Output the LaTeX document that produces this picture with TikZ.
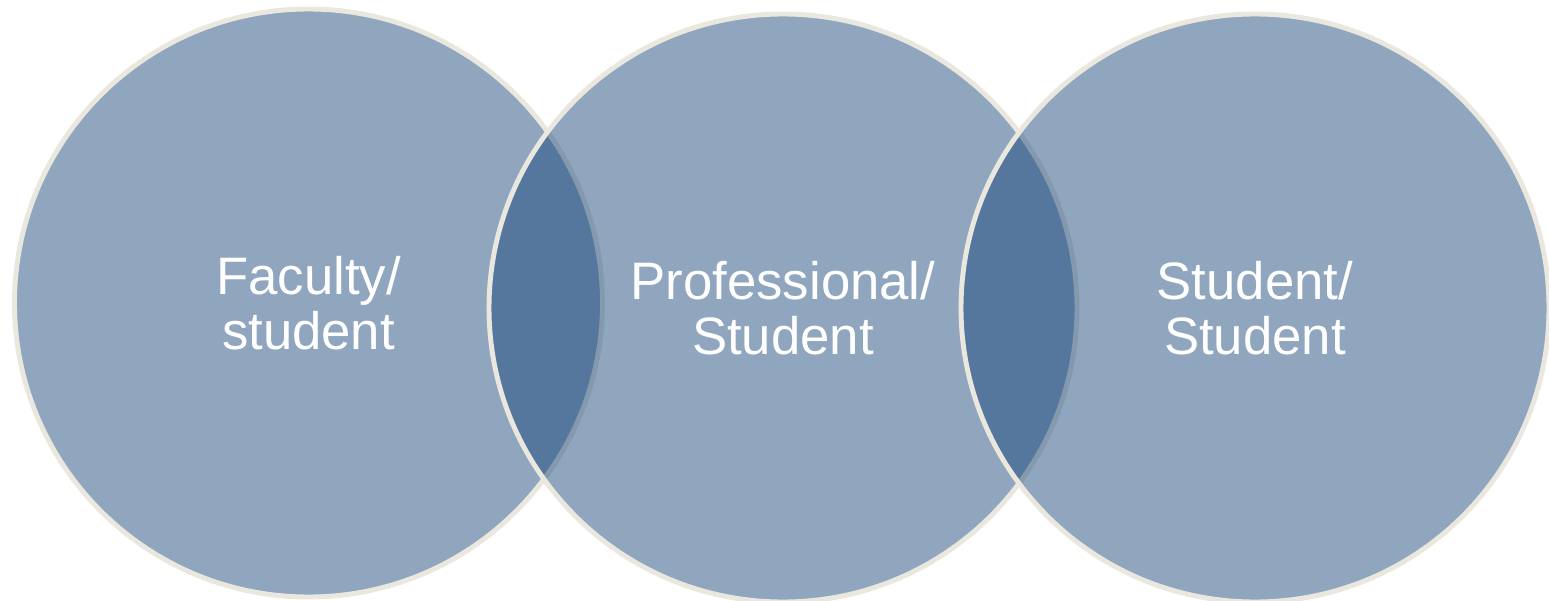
\documentclass[tikz,border=0pt]{standalone}
\usepackage{fontspec}
\setmainfont{Liberation Sans}
\usepackage{tikz}
\usetikzlibrary{shapes}
\definecolor{circleblue}{RGB}{22,68,120}
\definecolor{rimcream}{RGB}{234,232,222}
\tikzstyle{ring} = [circle, minimum size=11.76cm, inner sep=0pt, draw=rimcream, line width=2.8pt, fill=circleblue, fill opacity=0.48, text opacity=1, text=white, align=center, font=\fontsize{30}{31}\selectfont]

\begin{document}
\begin{tikzpicture}

\useasboundingbox (0,0) rectangle (30.98,12);

% Circles
\node (faculty) [ring] at (6.17,5.94) {Faculty/\\student};
\node (professional) [ring] at (15.66,5.84) {Professional/\\Student};
\node (peer) [ring] at (25.10,5.84) {Student/\\Student};

\end{tikzpicture}
\end{document}
